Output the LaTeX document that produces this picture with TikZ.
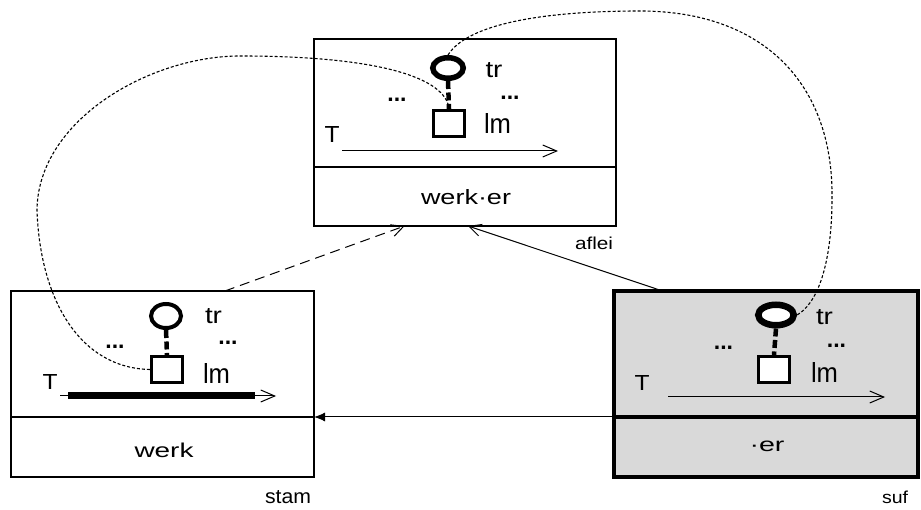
\documentclass[tikz,border=0pt]{standalone}
\usepackage{graphicx}
\usepackage{fontspec}
\setmainfont{Liberation Sans}
\usetikzlibrary{shapes.geometric,arrows.meta,calc}
\definecolor{sufgray}{RGB}{217,217,217}
\begin{document}
\begin{tikzpicture}[x=1pt,y=-1pt,
  boxnode/.style={draw, rectangle, inner sep=0pt, outer sep=0pt, anchor=north west},
  txt/.style={inner sep=0pt, font=\fontsize{20}{22}\selectfont},
  dotsnode/.style={inner sep=0pt, font=\bfseries\fontsize{23}{25}\selectfont},
  trc/.style={ellipse, draw, fill=white, inner sep=0pt},
  lmsq/.style={rectangle, draw, fill=white, line width=3.2pt, minimum width=31pt, minimum height=26pt, inner sep=0pt},
  tie/.style={line width=4.5pt, dash pattern=on 8pt off 3.5pt},
  tarrow/.style={line width=1pt, -{Straight Barb[length=14pt,width=12pt]}},
  corr/.style={line width=1.1pt, dash pattern=on 3pt off 2pt},
  conn/.style={line width=1pt, -{Straight Barb[length=12pt,width=12pt]}},
]
\useasboundingbox (0,0) rectangle (921,510);

% ---- boxes ----
\node[boxnode, line width=2.5pt, minimum width=302pt, minimum height=187pt] (deriv) at (314,39) {};
\draw[line width=2.5pt] ($(deriv.north west)+(0,128)$) -- ($(deriv.north east)+(0,128)$);
\node[boxnode, line width=2.5pt, minimum width=303pt, minimum height=186pt] (stam) at (11,291) {};
\draw[line width=2.5pt] ($(stam.north west)+(0,126)$) -- ($(stam.north east)+(0,126)$);
\node[boxnode, fill=sufgray, line width=3.5pt, minimum width=304pt, minimum height=186pt] (suf) at (614,291) {};
\draw[line width=3.5pt] ($(suf.north west)+(0,126)$) -- ($(suf.north east)+(0,126)$);

% ---- derived box content ----
\node[trc, line width=5.5pt, minimum width=30.5pt, minimum height=20.5pt] (dtr) at (448,68) {};
\node[lmsq] (dlm) at (449,123.5) {};
\draw[tie] (dtr.south) -- (dlm.north);
\node[txt] (dtrl) at (494,70) {\resizebox{17pt}{15pt}{tr}};
\node[txt] (dlml) at (497.5,123.5) {\resizebox{27pt}{20pt}{lm}};
\node[dotsnode] (dd1) at (397,100) {...};
\node[dotsnode] (dd2) at (510,98) {...};
\node[txt] (dT) at (332,135) {\resizebox{15pt}{16pt}{T}};
\coordinate (dA1) at (342,151);
\coordinate (dA2) at (558,151);
\draw[tarrow] (dA1) -- (dA2);
\node[txt] (dw) at (466,197) {\resizebox{90pt}{15pt}{werk·er}};

% ---- stam box content ----
\node[trc, line width=4pt, minimum width=30pt, minimum height=24pt] (str) at (166,316) {};
\node[lmsq] (slm) at (167,369.5) {};
\draw[tie] (str.south) -- (slm.north);
\node[txt] (strl) at (213.5,316) {\resizebox{17pt}{15pt}{tr}};
\node[txt] (slml) at (216.5,373.5) {\resizebox{27pt}{20pt}{lm}};
\node[dotsnode] (sd1) at (115,347) {...};
\node[dotsnode] (sd2) at (228,343) {...};
\node[txt] (sT) at (50,382) {\resizebox{15pt}{15pt}{T}};
\coordinate (sA1) at (60,396);
\coordinate (sA2) at (276,396);
\coordinate (sB1) at (68,396);
\coordinate (sB2) at (255,396);
\draw[tarrow] (sA1) -- (sA2);
\draw[line width=7pt] (sB1) -- (sB2);
\node[txt] (sw) at (164,450) {\resizebox{59pt}{14.5pt}{werk}};
\node[txt] (stamlbl) at (288,497) {\resizebox{46pt}{13pt}{stam}};

% ---- suf box content ----
\node[trc, line width=6.5pt, minimum width=35.5pt, minimum height=20.5pt] (ftr) at (776,315) {};
\node[lmsq] (flm) at (774,369.5) {};
\draw[tie] (ftr.south) -- (flm.north);
\node[txt] (ftrl) at (824.5,317) {\resizebox{17pt}{15pt}{tr}};
\node[txt] (flml) at (824.5,373) {\resizebox{27pt}{20pt}{lm}};
\node[dotsnode] (fd1) at (723.5,348) {...};
\node[dotsnode] (fd2) at (836.5,346) {...};
\node[txt] (fT) at (642,383) {\resizebox{15pt}{15pt}{T}};
\coordinate (fA1) at (668,397);
\coordinate (fA2) at (885,397);
\draw[tarrow] (fA1) -- (fA2);
\node[txt] (fw) at (767,446) {\resizebox{35pt}{10.5pt}{·er}};
\node[txt] (suflbl) at (895,497) {\resizebox{26pt}{12.5pt}{suf}};

% ---- connectors ----
\node[txt] (aflei) at (594,243) {\resizebox{38pt}{12.5pt}{aflei}};
\draw[conn, dash pattern=on 10pt off 6pt] ($(stam.north west)!0.706!(stam.north east)$) -- ($(deriv.south west)!0.30!(deriv.south east)$);
\draw[conn] ($(suf.north west)!0.16!(suf.north east)$) -- ($(deriv.south west)!0.51!(deriv.south east)$);
\draw[line width=1pt, -{Latex[length=11pt,width=9pt]}] ($(suf.north west)+(0,126)$) -- ($(stam.north east)+(0,126)$);

% ---- correspondence curves ----
\draw[corr] (slm.west) .. controls (80,368) and (40,300) .. (37,210)
  .. controls (38,120) and (150,56) .. (240,56)
  .. controls (380,56) and (446,78) .. (dlm.north);
\draw[corr] (dtr.north) .. controls (470,20) and (560,11) .. (640,11)
  .. controls (760,11) and (830,80) .. (832,190)
  .. controls (833,270) and (815,305) .. (ftr.east);
\end{tikzpicture}
\end{document}
